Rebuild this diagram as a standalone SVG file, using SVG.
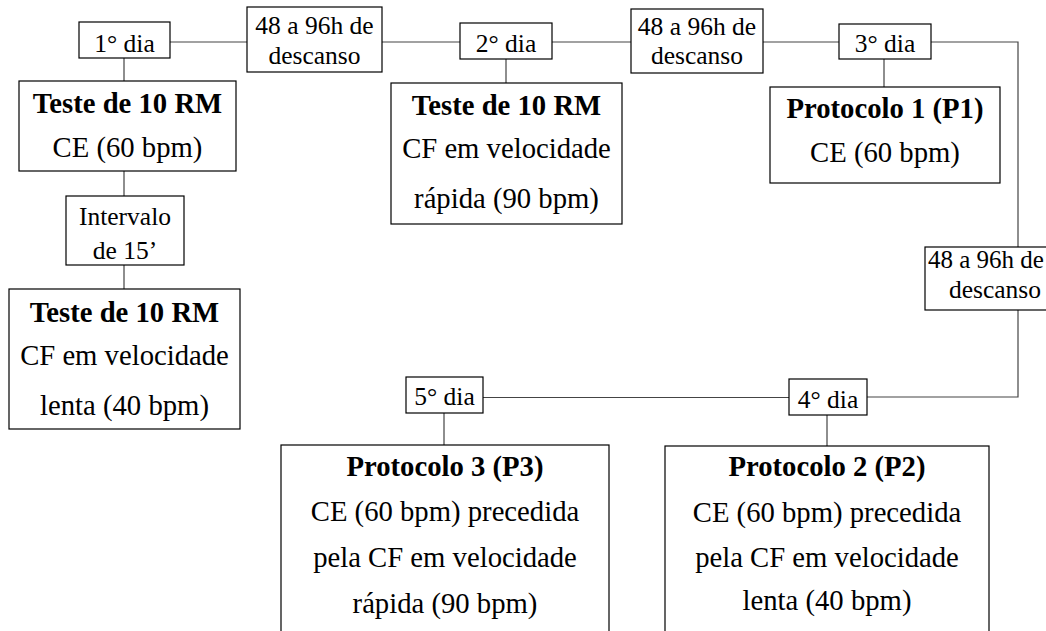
<svg xmlns="http://www.w3.org/2000/svg" width="1046" height="631" viewBox="0 0 1046 631">
<style>
.box{fill:#fff;stroke:#000;stroke-width:1.2}
.ln{fill:none;stroke:#444;stroke-width:1.2}
.s{font-size:25.5px}
.b{font-size:28.7px}
.bb{font-size:28.7px;font-weight:bold}
</style>
<rect width="1046" height="631" fill="#fff"/>
<g id="connectors">
<path class="ln" d="M170 42H247M382 42H460M552 42H631M763 42H839M931 42H1018V247M1018 310V397H867M789 397.5H483"/>
<path class="ln" d="M124 58V81M124 171V196M124 265V289M506 59V83M884 59V87M827 415V446M444 413V445"/>
</g>
<g font-family="'Liberation Serif', 'Times New Roman', serif" text-anchor="middle" fill="#000">
<g id="dia1"><rect class="box" x="79" y="22" width="91" height="36"/><text class="s" x="124.5" y="52">1° dia</text></g>
<g id="descanso1"><rect class="box" x="247" y="7" width="135" height="65"/><text class="s" x="314.5" y="34">48 a 96h de</text><text class="s" x="314.5" y="64">descanso</text></g>
<g id="dia2"><rect class="box" x="460" y="23" width="92" height="36"/><text class="s" x="506" y="52">2° dia</text></g>
<g id="descanso2"><rect class="box" x="631" y="9" width="132" height="64"/><text class="s" x="697" y="35">48 a 96h de</text><text class="s" x="697" y="64">descanso</text></g>
<g id="dia3"><rect class="box" x="839" y="24" width="92" height="35"/><text class="s" x="885" y="52">3° dia</text></g>
<g id="teste1"><rect class="box" x="19" y="81" width="217" height="90"/><text class="bb" x="127.5" y="113">Teste de 10 RM</text><text class="b" x="127.5" y="157">CE (60 bpm)</text></g>
<g id="intervalo"><rect class="box" x="66" y="196" width="118" height="69"/><text class="s" x="125" y="225">Intervalo</text><text class="s" x="125" y="259">de 15’</text></g>
<g id="teste3"><rect class="box" x="9" y="289" width="231" height="140"/><text class="bb" x="124.5" y="322">Teste de 10 RM</text><text class="b" x="124.5" y="365">CF em velocidade</text><text class="b" x="124.5" y="415">lenta (40 bpm)</text></g>
<g id="teste2"><rect class="box" x="391" y="83" width="231" height="141"/><text class="bb" x="506.5" y="115">Teste de 10 RM</text><text class="b" x="506.5" y="158">CF em velocidade</text><text class="b" x="506.5" y="208">rápida (90 bpm)</text></g>
<g id="p1"><rect class="box" x="770" y="87" width="230" height="96"/><text class="bb" x="885" y="118">Protocolo 1 (P1)</text><text class="b" x="885" y="162">CE (60 bpm)</text></g>
<g id="descanso3"><rect class="box" x="925" y="247" width="142" height="63"/><text x="986" y="268" font-size="25">48 a 96h de</text><text class="s" x="995" y="298">descanso</text></g>
<g id="dia4"><rect class="box" x="789" y="379" width="78" height="36"/><text class="s" x="828" y="408">4° dia</text></g>
<g id="dia5"><rect class="box" x="406" y="377" width="77" height="36"/><text class="s" x="444.5" y="405">5° dia</text></g>
<g id="p3"><rect class="box" x="281" y="445" width="328" height="200"/><text class="bb" x="445" y="476">Protocolo 3 (P3)</text><text class="b" x="445" y="521">CE (60 bpm) precedida</text><text class="b" x="445" y="567">pela CF em velocidade</text><text class="b" x="445" y="613">rápida (90 bpm)</text></g>
<g id="p2"><rect class="box" x="665" y="446" width="324" height="200"/><text class="bb" x="827" y="476">Protocolo 2 (P2)</text><text class="b" x="827" y="522">CE (60 bpm) precedida</text><text class="b" x="827" y="567">pela CF em velocidade</text><text class="b" x="827" y="610">lenta (40 bpm)</text></g>
</g>
</svg>
